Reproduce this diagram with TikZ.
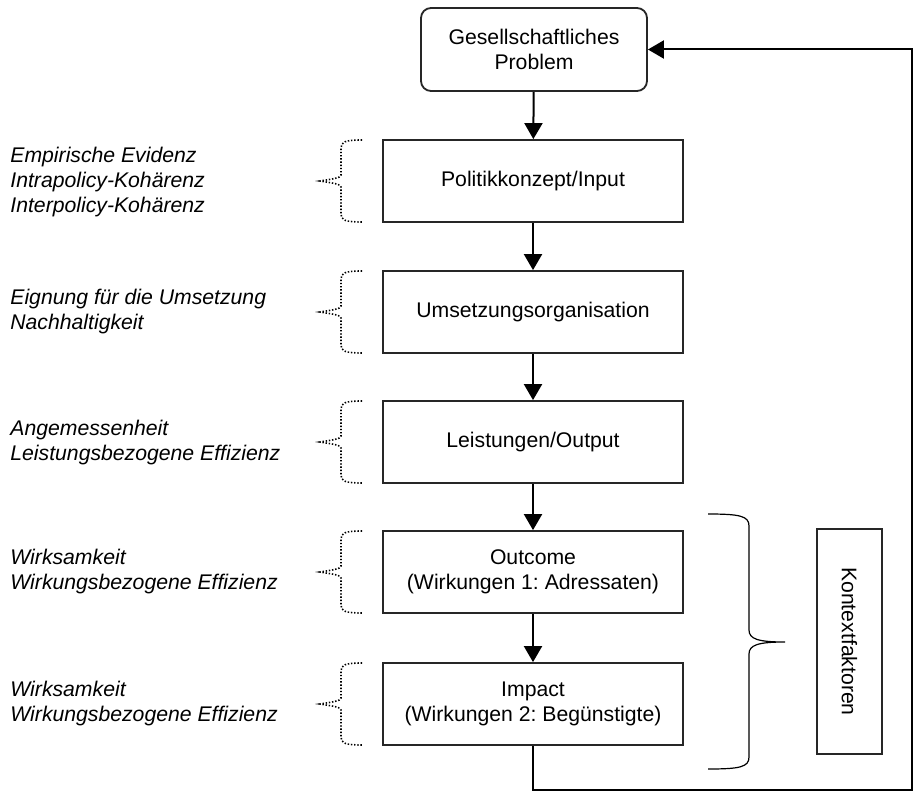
\documentclass[tikz,border=0pt]{standalone}
\usepackage{fontspec}
\setmainfont{Liberation Sans}
\frenchspacing
\usetikzlibrary{arrows.meta,positioning,shapes}
\pgfdeclarelayer{edgelayer}
\pgfdeclarelayer{nodelayer}
\pgfsetlayers{edgelayer,nodelayer,main}
\tikzset{font=\fontsize{10.6}{12.5}\selectfont}
\tikzstyle{none}=[inner sep=0pt]
\tikzstyle{stage}=[rectangle,draw=black!85,line width=0.9pt,minimum width=150pt,minimum height=41pt,align=center]
\tikzstyle{problem}=[stage,rounded corners=5pt,minimum width=113pt,minimum height=41.5pt]
\tikzstyle{context}=[rectangle,draw=black!85,line width=0.9pt,minimum width=112.5pt,minimum height=32.5pt,rotate=-90]
\tikzstyle{criteria}=[inner sep=0pt,anchor=west,align=left,font=\fontsize{10.6}{12.5}\selectfont\itshape]
\tikzstyle{flow}=[-{Triangle[length=8pt,width=9pt]},line width=1pt]
\tikzstyle{dotbrace}=[line width=0.8pt,dash pattern=on 0.7pt off 0.9pt]
\tikzstyle{ctxbrace}=[line width=0.6pt]

\begin{document}
\begin{tikzpicture}[x=0.5pt,y=-0.5pt]
	\useasboundingbox (0,0) rectangle (914,792);
	\begin{pgfonlayer}{nodelayer}
		\node [style=problem] (problem) at (534,49.5) {Gesellschaftliches\\Problem};
		\node [style=stage] (input) at (533,181) {Politikkonzept/Input};
		\node [style=stage] (umsetzung) at (533,312) {Umsetzungsorganisation};
		\node [style=stage] (output) at (533,442) {Leistungen/Output};
		\node [style=stage] (outcome) at (533,572) {Outcome\\(Wirkungen 1: Adressaten)};
		\node [style=stage] (impact) at (533,704) {Impact\\(Wirkungen 2: Begünstigte)};
		\node [style=context] (kontext) at (849.5,641.5) {Kontextfaktoren};
		\node [style=criteria] (kritInput) at (10,182) {Empirische Evidenz\\Intrapolicy-Kohärenz\\Interpolicy-Kohärenz};
		\node [style=criteria] (kritUmsetzung) at (10,312) {Eignung für die Umsetzung\\Nachhaltigkeit};
		\node [style=criteria] (kritOutput) at (10,443) {Angemessenheit\\Leistungsbezogene Effizienz};
		\node [style=criteria] (kritOutcome) at (10,572) {Wirksamkeit\\Wirkungsbezogene Effizienz};
		\node [style=criteria] (kritImpact) at (10,704) {Wirksamkeit\\Wirkungsbezogene Effizienz};
		\node [style=none] (FB) at (912,790) {};
	\end{pgfonlayer}
	\begin{pgfonlayer}{edgelayer}
		\draw [style=flow] (problem) to (input);
		\draw [style=flow] (input) to (umsetzung);
		\draw [style=flow] (umsetzung) to (output);
		\draw [style=flow] (output) to (outcome);
		\draw [style=flow] (outcome) to (impact);
		\draw [style=flow] (impact.south) |- (FB.center) |- (problem.east);
%		dotted braces in front of the boxes
		\draw [style=dotbrace] (362,140) .. controls (345,140) and (341,142) .. (341,148) -- (341,175) .. controls (341,178) and (332,179) .. (320,181) .. controls (332,183) and (341,184) .. (341,187) -- (341,214) .. controls (341,220) and (345,222) .. (362,222);
		\draw [style=dotbrace] (362,271) .. controls (345,271) and (341,273) .. (341,279) -- (341,306) .. controls (341,309) and (332,310) .. (320,312) .. controls (332,314) and (341,315) .. (341,318) -- (341,345) .. controls (341,351) and (345,353) .. (362,353);
		\draw [style=dotbrace] (362,401) .. controls (345,401) and (341,403) .. (341,409) -- (341,436) .. controls (341,439) and (332,440) .. (320,442) .. controls (332,444) and (341,445) .. (341,448) -- (341,475) .. controls (341,481) and (345,483) .. (362,483);
		\draw [style=dotbrace] (362,531) .. controls (345,531) and (341,533) .. (341,539) -- (341,566) .. controls (341,569) and (332,570) .. (320,572) .. controls (332,574) and (341,575) .. (341,578) -- (341,605) .. controls (341,611) and (345,613) .. (362,613);
		\draw [style=dotbrace] (362,663) .. controls (345,663) and (341,665) .. (341,671) -- (341,698) .. controls (341,701) and (332,702) .. (320,704) .. controls (332,706) and (341,707) .. (341,710) -- (341,737) .. controls (341,743) and (345,745) .. (362,745);
%		brace for the context factors
		\draw [style=ctxbrace] (708,514) .. controls (740,514) and (749,516) .. (749,526) -- (749,630) .. controls (749,639) and (758,642) .. (785,642) .. controls (758,642) and (749,645) .. (749,654) -- (749,757) .. controls (749,767) and (740,769) .. (708,769);
	\end{pgfonlayer}
\end{tikzpicture}
\end{document}
